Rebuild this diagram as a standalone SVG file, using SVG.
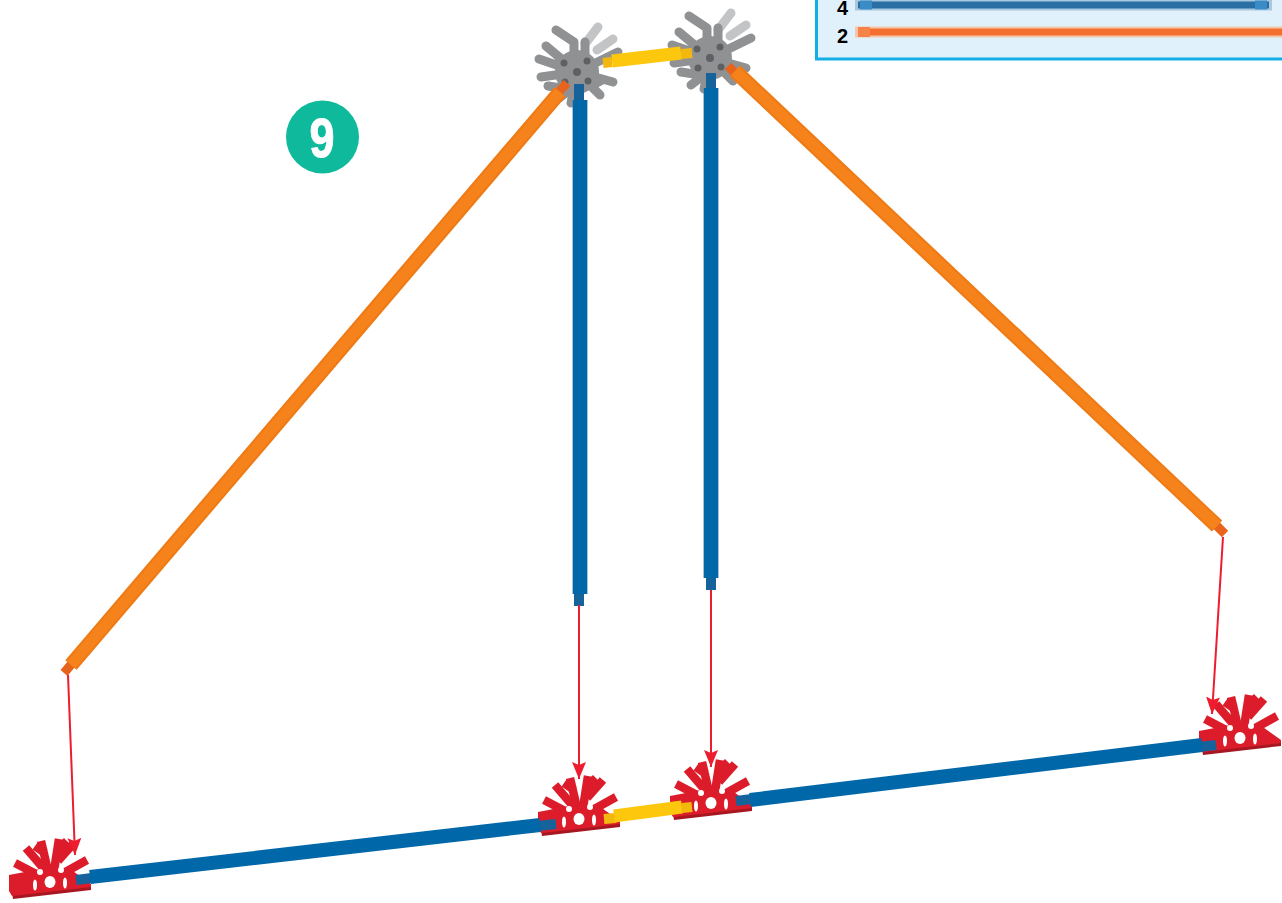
<svg xmlns="http://www.w3.org/2000/svg" xmlns:xlink="http://www.w3.org/1999/xlink" width="1282" height="903" viewBox="0 0 1282 903">
<style>
.soft{filter:url(#soft)}
.rod{fill:none;stroke-linecap:butt}
.od{stroke:#ee7a14;stroke-width:15}
.o{stroke:#f6821c;stroke-width:11}
.oe{stroke:#e8641f;stroke-width:9}
.bd{stroke:#4d87b3;stroke-width:15}
.b{stroke:#0067a9;stroke-width:14}
.be{stroke:#17639c;stroke-width:10}
.y{stroke:#fdc70f;stroke-width:13}
.ye{stroke:#f3b811;stroke-width:10}
.arrow{stroke:#ed1c2e;stroke-width:2;fill:none;marker-end:url(#ah)}
.lab{font:bold 20px "Liberation Sans",Arial,sans-serif;fill:#000}
.sg{stroke:#8f9193;stroke-width:9;fill:none;stroke-linecap:round;stroke-linejoin:round}
.sl{stroke:#c3c4c5;stroke-width:9;fill:none;stroke-linecap:round;stroke-linejoin:round}
.sr{stroke:#dc1f2b;stroke-width:8.500;fill:none;stroke-linecap:butt}
</style>
<defs>
<filter id="soft" x="-10%" y="-10%" width="120%" height="120%"><feGaussianBlur stdDeviation="0.7"/></filter>
<marker id="ah" markerUnits="userSpaceOnUse" markerWidth="20" markerHeight="18" refX="17" refY="7" orient="auto"><path d="M0 0L17 7L0 14L3 7Z" fill="#ed1c2e"/></marker>
<g id="red">
<path d="M-38 12L41 4V9L-37 18Z" fill="#a81822"/>
<path d="M-41 -6L-20 -10L0 -14L20 -12L41 3V6L-38 15L-41 10Z" fill="#dc1f2b"/>
<g class="sr">
<path d="M-2 -10L-9 -40"/>
<path d="M4 -10L9 -42"/>
<path d="M8 -20L24 -38"/>
<path d="M10 -6L37 -21"/>
<path d="M-6 -12L-24 -33"/>
<path d="M-12 -6L-35 -18"/>
<path d="M-5 -28L-15 -35M7 -30L17 -40"/>
</g>
<g fill="#fff"><ellipse cx="0" cy="1" rx="5.500" ry="6"/><ellipse cx="-10" cy="-9" rx="3" ry="3"/><ellipse cx="11" cy="-11" rx="3" ry="3"/><ellipse cx="-15" cy="4" rx="2" ry="5.500"/><ellipse cx="15" cy="2" rx="2" ry="5.500"/></g>
</g>
<g id="grey">
<g class="sl"><path d="M8 -28L21 -45"/><path d="M20 -22L36 -33"/></g>
<g class="sg">
<path d="M0 0L-31 -26M0 0L-38 -13M0 0L-36 5M0 0L-6 31M0 0L23 23M0 0L36 10M0 0L41 -20"/>
<path d="M8 -10V-30M-3 -10V-30L-21 -42M-16 16L-29 14M-10 20L-19 27M14 14L25 8"/>
</g>
<circle r="22" fill="#8f9193"/>
<g fill="#5f6163"><circle cx="-13" cy="-9" r="3.500"/><circle cx="10" cy="-11" r="3.500"/><circle cx="-12" cy="10" r="3.500"/><circle cx="11" cy="9" r="3.500"/><circle r="4"/></g>
</g>
</defs>
<rect width="1282" height="903" fill="#fff"/>
<g id="legend">
<rect x="816.500" y="-10" width="480" height="69" fill="#e0f1fb" stroke="#12aee6" stroke-width="3"/>
<text class="lab" x="837" y="14.500">4</text>
<text class="lab" x="837" y="42.500">2</text>
<path d="M855 5H1272" stroke="#a9c8de" stroke-width="11" fill="none"/>
<path d="M858 5H1269" stroke="#296fa3" stroke-width="7" fill="none"/>
<path d="M860 5H872M1255 5H1267" stroke="#3a8cc6" stroke-width="9" fill="none"/>
<path d="M855 32H1282" stroke="#f4c7ab" stroke-width="11" fill="none"/>
<path d="M858 32H1282" stroke="#f3702f" stroke-width="7" fill="none"/>
<path d="M858 32H870" stroke="#f68347" stroke-width="10" fill="none"/>
</g>
<g id="badge">
<circle cx="322.500" cy="137" r="36.500" fill="#0fb99b"/>
<text x="309.500" y="157" font-family="'Liberation Sans',Arial,sans-serif" font-weight="bold" font-size="56" fill="#fff" stroke="#fff" stroke-width="1" textLength="25" lengthAdjust="spacingAndGlyphs">9</text>
</g>
<g id="node-grey-left" class="soft"><use xlink:href="#grey" href="#grey" transform="translate(577 72)"/></g>
<g id="node-grey-right" class="soft"><use xlink:href="#grey" href="#grey" transform="translate(710 58)"/></g>
<g id="node-red-1" class="soft"><use xlink:href="#red" href="#red" transform="translate(50 881)"/></g>
<g id="node-red-2" class="soft"><use xlink:href="#red" href="#red" transform="translate(579 818)"/></g>
<g id="node-red-3" class="soft"><use xlink:href="#red" href="#red" transform="translate(711 802)"/></g>
<g id="node-red-4" class="soft"><use xlink:href="#red" href="#red" transform="translate(1240 737)"/></g>
<g id="connectors">
<g class="soft">
<path class="rod oe" d="M64 673L74 661M556 95L567 83"/>
<path class="rod od" d="M71 665L560 92"/>
<path class="rod o" d="M71 665L560 92"/>
<path class="rod oe" d="M1225 534L1216 525M736 74L728 66"/>
<path class="rod od" d="M1217 526L735 71"/>
<path class="rod o" d="M1217 526L735 71"/>
<path class="rod be" d="M579 606V592M579 100V84M711 590V575M711 88V73"/>
<path class="rod bd" d="M580 594V100M711 578V88"/>
<path class="rod b" d="M580 594V100M711 578V88"/>
<path class="rod be" d="M76 880L92 878M538 826L556 824M736 801L752 799M1198 747L1216 745"/>
<path class="rod b" d="M90 877L540 825"/>
<path class="rod b" d="M750 800L1202 745"/>
<path class="rod y" d="M612 61L681 53"/>
<path class="rod ye" d="M603 63L612 62M681 54L692 53M604 819L616 818M682 808L692 807"/>
<path class="rod y" d="M614 816L682 807"/>
</g>
</g>
<g id="arrows">
<path class="arrow" d="M68 675L75 855"/>
<path class="arrow" d="M579 605V779"/>
<path class="arrow" d="M711 590V767"/>
<path class="arrow" d="M1223 537L1212 714"/>
</g>
</svg>
